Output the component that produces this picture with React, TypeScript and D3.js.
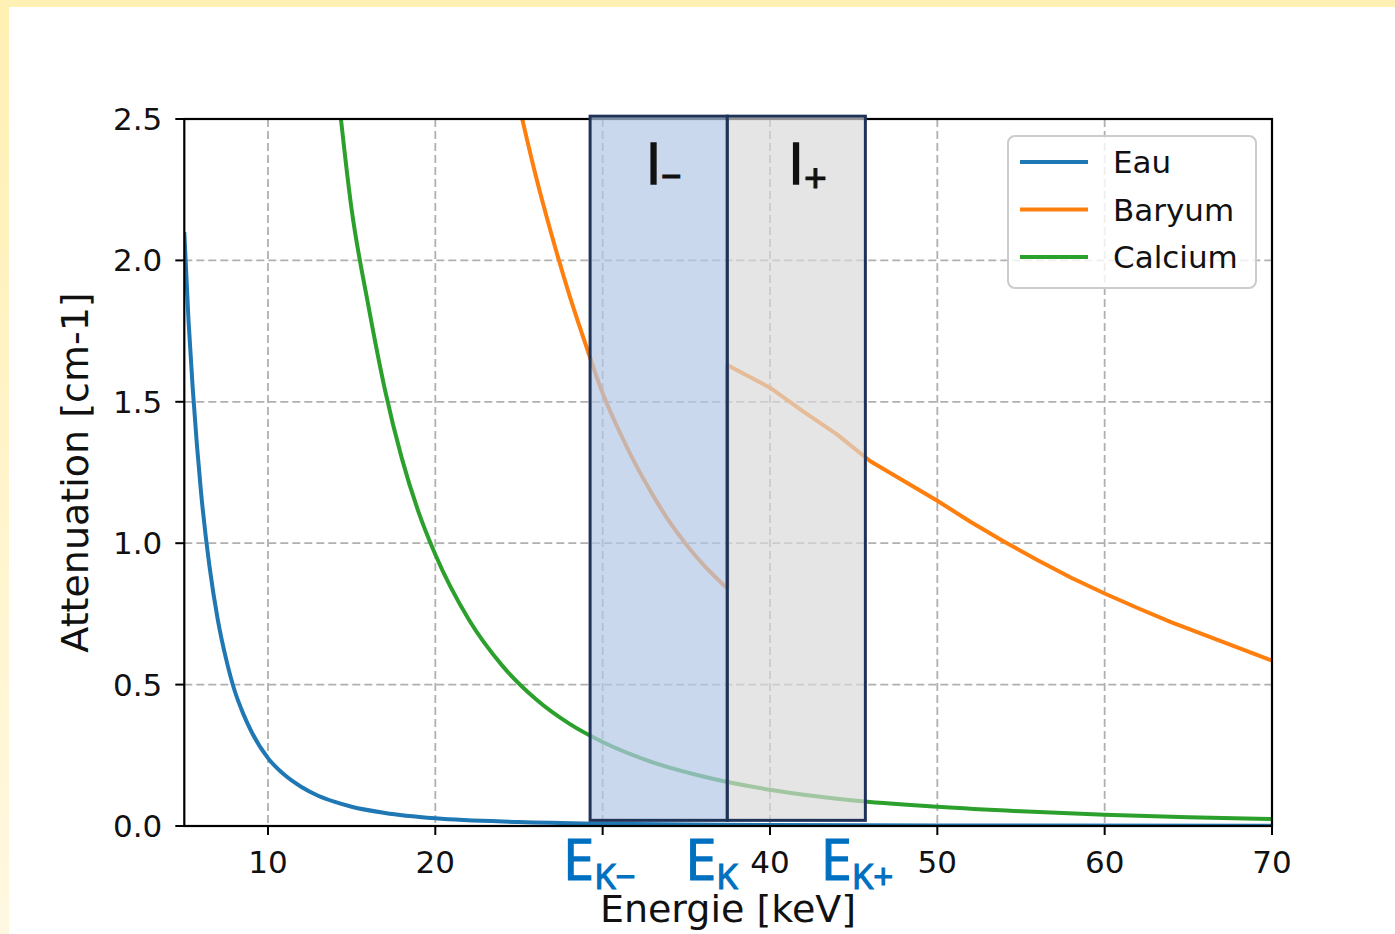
import React from "react";
import * as d3 from "d3";

// ---- data ----
const eauE = [5, 5.25, 5.5, 5.75, 6, 6.5, 7, 7.5, 8, 8.5, 9, 10, 11, 12, 13, 14, 15, 17, 20, 25, 30, 40, 50, 70];
const eauV = [2.1, 1.79, 1.55, 1.35, 1.18, 0.92, 0.73, 0.59, 0.48, 0.4, 0.335, 0.24, 0.18, 0.138, 0.107, 0.085, 0.068, 0.046, 0.027, 0.014, 0.008, 0.0035, 0.0018, 0.0007];

const baryumBeforeE = [25, 26, 27, 28, 29, 30, 31, 32, 33, 34, 35, 36, 37, 37.45];
const baryumBeforeV = [2.55, 2.3, 2.08, 1.88, 1.7, 1.53, 1.395, 1.275, 1.17, 1.075, 0.995, 0.925, 0.865, 0.84];
const baryumAfterE = [37.45, 40, 42, 44, 46, 48, 50, 52, 54, 56, 58, 60, 62, 64, 66, 68, 70];
const baryumAfterV = [1.63, 1.55, 1.465, 1.385, 1.29, 1.22, 1.15, 1.075, 1.005, 0.94, 0.878, 0.822, 0.77, 0.72, 0.675, 0.63, 0.585];

const calciumE = [14, 15, 16, 17, 18, 19, 20, 22, 24, 26, 28, 30, 33, 36, 40, 45, 50, 55, 60, 65, 70];
const calciumV = [2.7, 2.18, 1.84, 1.54, 1.3, 1.11, 0.96, 0.73, 0.567, 0.449, 0.362, 0.297, 0.225, 0.175, 0.128, 0.09, 0.068, 0.052, 0.04, 0.031, 0.025];

const seriesNames = ["Eau", "Baryum", "Calcium"];
const seriesColors = ["#1f77b4", "#ff7f0e", "#2ca02c"];

const xTicks = [10, 20, 30, 40, 50, 60, 70];
const xTickLabels = ["10", "20", "", "40", "50", "60", "70"];
const yTicks = [0, 0.5, 1.0, 1.5, 2.0, 2.5];
const yTickLabels = ["0.0", "0.5", "1.0", "1.5", "2.0", "2.5"];

// energy windows (I−, I+) and edge markers
const windowEdges = [29.25, 37.45, 45.7];
const windowLabels = ["I", "I"];
const windowSubs = ["\u2013", "+"];
const edgeLabelPos = [29.8, 36.5, 45.2];
const edgeLabelSubs = ["K\u2212", "K", "K+"];

const W = 1395;
const H = 934;
const left = 184.3;
const right = 1272;
const top = 119;
const bottom = 826;

export default function App() {
  const x = d3.scaleLinear().domain([5, 70]).range([left, right]);
  const y = d3.scaleLinear().domain([0, 2.5]).range([bottom, top]);
  const line = d3
    .line<[number, number]>()
    .x((d) => x(d[0]))
    .y((d) => y(d[1]))
    .curve(d3.curveMonotoneX);
  const lineLin = d3
    .line<[number, number]>()
    .x((d) => x(d[0]))
    .y((d) => y(d[1]));

  const eauPts: [number, number][] = eauE.map((e, i) => [e, eauV[i]]);
  const baBefore: [number, number][] = baryumBeforeE.map((e, i) => [e, baryumBeforeV[i]]);
  const baAfter: [number, number][] = baryumAfterE.map((e, i) => [e, baryumAfterV[i]]);
  const caPts: [number, number][] = calciumE.map((e, i) => [e, calciumV[i]]);

  const font = "'DejaVu Sans', sans-serif";
  const labelFont = "'Open Sans', 'Noto Sans', sans-serif";
  const rTop = y(2.51);
  const rBot = y(0.02);

  return (
    <svg
      width={W}
      height={H}
      style={{ position: "absolute", left: 0, top: 0, background: "#fff" }}
    >
      <defs>
        <clipPath id="plotclip">
          <rect x={left} y={top} width={right - left} height={bottom - top} />
        </clipPath>
        <linearGradient id="leftstrip" x1="0" y1="0" x2="0" y2="1">
          <stop offset="0" stopColor="#fff0b3" />
          <stop offset="1" stopColor="#fff8e1" />
        </linearGradient>
      </defs>
      <rect x={0} y={0} width={W} height={7} fill="#fff0b3" />
      <rect x={0} y={0} width={9} height={H} fill="url(#leftstrip)" />

      {/* grid */}
      <g stroke="#b0b0b0" strokeWidth={1.8} strokeDasharray="8,4">
        {xTicks.map((t) => (
          <line key={"gx" + t} x1={x(t)} x2={x(t)} y1={top} y2={bottom} />
        ))}
        {yTicks.slice(1, 5).map((t) => (
          <line key={"gy" + t} x1={left} x2={right} y1={y(t)} y2={y(t)} />
        ))}
      </g>

      {/* curves */}
      <g clipPath="url(#plotclip)" fill="none" strokeWidth={4} strokeLinejoin="round">
        <path d={line(eauPts) || ""} stroke={seriesColors[0]} />
        <path d={line(baBefore) || ""} stroke={seriesColors[1]} />
        <path d={lineLin([baBefore[baBefore.length - 1], baAfter[0]]) || ""} stroke={seriesColors[1]} />
        <path d={lineLin(baAfter) || ""} stroke={seriesColors[1]} />
        <path d={line(caPts) || ""} stroke={seriesColors[2]} />
      </g>

      {/* spines */}
      <rect x={left} y={top} width={right - left} height={bottom - top} fill="none" stroke="#000" strokeWidth={2.2} />

      {/* ticks */}
      <g stroke="#000" strokeWidth={2}>
        {xTicks.map((t) => (
          <line key={"tx" + t} x1={x(t)} x2={x(t)} y1={bottom} y2={bottom + 9} />
        ))}
        {yTicks.map((t) => (
          <line key={"ty" + t} x1={left - 9} x2={left} y1={y(t)} y2={y(t)} />
        ))}
      </g>
      <g fontFamily={font} fontSize={31} fill="#111">
        {xTicks.map((t, i) => (
          <text key={"lx" + t} x={x(t)} y={bottom + 47} textAnchor="middle">
            {xTickLabels[i]}
          </text>
        ))}
        {yTicks.map((t, i) => (
          <text key={"ly" + t} x={left - 22} y={y(t) + 11} textAnchor="end">
            {yTickLabels[i]}
          </text>
        ))}
      </g>

      {/* energy windows */}
      <rect
        x={x(windowEdges[0])}
        y={rTop}
        width={x(windowEdges[1]) - x(windowEdges[0])}
        height={rBot - rTop}
        fill="#b4c7e7"
        fillOpacity={0.7}
        stroke="#1f3258"
        strokeWidth={3}
      />
      <rect
        x={x(windowEdges[1])}
        y={rTop}
        width={x(windowEdges[2]) - x(windowEdges[1])}
        height={rBot - rTop}
        fill="#d9d9d9"
        fillOpacity={0.68}
        stroke="#1f3258"
        strokeWidth={3}
      />
      {windowLabels.map((l, i) => (
        <text
          key={"wl" + i}
          x={(x(windowEdges[i]) + x(windowEdges[i + 1])) / 2 - (i === 0 ? 13 : 8)}
          y={184}
          fontFamily={labelFont}
          fontSize={56}
          fill="#111"
          stroke="#111"
          strokeWidth={1.6}
        >
          {l}
          <tspan fontSize={40} dy={i === 0 ? 3 : 9} strokeWidth={1.2}>
            {windowSubs[i]}
          </tspan>
        </text>
      ))}

      {/* legend */}
      <rect x={1008} y={136} width={248} height={152} rx={7} fill="#fff" fillOpacity={0.8} stroke="#cccccc" strokeWidth={2} />
      {seriesNames.map((n, i) => (
        <g key={n}>
          <line x1={1020} x2={1088} y1={162 + i * 47.5} y2={162 + i * 47.5} stroke={seriesColors[i]} strokeWidth={4} />
          <text x={1113} y={162 + i * 47.5 + 11} fontFamily={font} fontSize={31} fill="#111">
            {n}
          </text>
        </g>
      ))}

      {/* edge labels */}
      {edgeLabelPos.map((p, i) => (
        <text
          key={"el" + i}
          x={x(p)}
          y={880}
          textAnchor="middle"
          fontFamily={labelFont}
          fontSize={56}
          fill="#0070c0"
          stroke="#0070c0"
          strokeWidth={1.2}
        >
          E
          <tspan fontSize={35} dy={9}>
            {edgeLabelSubs[i]}
          </tspan>
        </text>
      ))}

      {/* axis labels */}
      <text x={728} y={922} textAnchor="middle" fontFamily={font} fontSize={38} fill="#111">
        Energie [keV]
      </text>
      <text
        transform={`translate(88,${(top + bottom) / 2}) rotate(-90)`}
        textAnchor="middle"
        fontFamily={font}
        fontSize={38}
        fill="#111"
      >
        Attenuation [cm-1]
      </text>
    </svg>
  );
}
